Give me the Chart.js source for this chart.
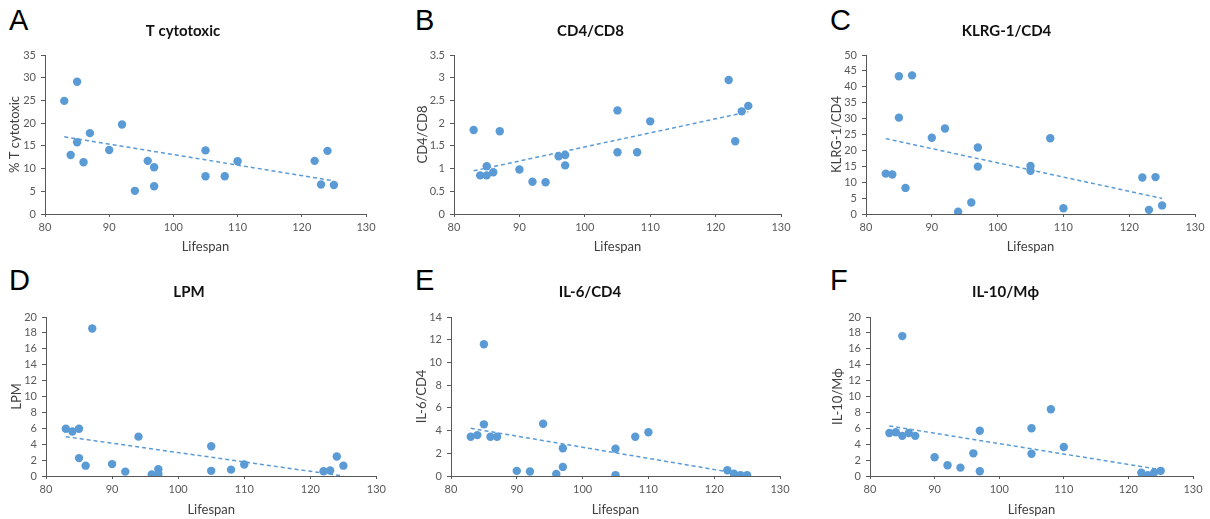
<!DOCTYPE html>
<html>
<head>
<meta charset="utf-8">
<script src="https://cdn.jsdelivr.net/npm/chart.js@4.4.1/dist/chart.umd.min.js"></script>
<style>
  html, body { margin: 0; padding: 0; background: #fff; }
  body { width: 1210px; height: 519px; position: relative; overflow: hidden; }
  .panel { position: absolute; }
  .letter { position: absolute; font-family: "Liberation Sans", Arial, sans-serif; font-size: 29px; line-height: 28px; color: #000; }
</style>
</head>
<body>
<script>
// ---- Data ----
const lifespan = [83, 84, 85, 85, 86, 87, 90, 92, 94, 96, 97, 97, 105, 105, 108, 110, 122, 123, 124, 125];

const tCytotoxic = [24.9, 13.0, 29.1, 15.8, 11.4, 17.8, 14.1, 19.7, 5.1, 11.7, 10.3, 6.1, 14.0, 8.3, 8.3, 11.6, 11.7, 6.5, 13.9, 6.4];
const cd4cd8     = [1.85, 0.85, 1.05, 0.85, 0.92, 1.82, 0.98, 0.71, 0.70, 1.27, 1.30, 1.07, 2.28, 1.36, 1.36, 2.04, 2.95, 1.60, 2.26, 2.38];
const klrg1cd4   = [12.7, 12.4, 43.3, 30.3, 8.2, 43.6, 24.0, 26.9, 0.7, 3.6, 20.9, 14.9, 15.1, 13.6, 23.8, 1.8, 11.5, 1.3, 11.6, 2.7];
const lpm        = [5.95, 5.6, 5.95, 2.25, 1.3, 18.55, 1.5, 0.55, 4.95, 0.2, 0.85, 0.25, 3.75, 0.65, 0.8, 1.45, 0.6, 0.7, 2.45, 1.3];
const il6cd4     = [3.45, 3.6, 11.6, 4.55, 3.45, 3.45, 0.45, 0.4, 4.6, 0.18, 2.45, 0.8, 2.4, 0.08, 3.45, 3.85, 0.5, 0.2, 0.08, 0.08];
const il10mphi   = [5.4, 5.5, 17.6, 5.05, 5.4, 5.05, 2.35, 1.35, 1.05, 2.85, 5.7, 0.6, 6.0, 2.8, 8.4, 3.65, 0.4, 0.1, 0.45, 0.65];

// Dashed linear trend lines (endpoints)
const trendX = [83, 125];
const trendA = [17.0, 7.3];
const trendB = [0.95, 2.25];
const trendC = [23.7, 4.9];
const trendD = [4.95, 0.0];
const trendE = [4.2, 0.08];
const trendF = [6.3, 0.8];

// Axis tick settings
const xTicks = { min: 80, max: 130, step: 10 };
const yRanges = {
  A: [0, 35, 5], B: [0, 3.5, 0.5], C: [0, 50, 5],
  D: [0, 20, 2], E: [0, 14, 2], F: [0, 20, 2]
};

const titles = { A: 'T cytotoxic', B: 'CD4/CD8', C: 'KLRG-1/CD4', D: 'LPM', E: 'IL-6/CD4', F: 'IL-10/M\u03D5' };
const yTitles = { A: '% T cytotoxic', B: 'CD4/CD8', C: 'KLRG-1/CD4', D: 'LPM', E: 'IL-6/CD4', F: 'IL-10/M\u03D5' };
const seriesByPanel = { A: tCytotoxic, B: cd4cd8, C: klrg1cd4, D: lpm, E: il6cd4, F: il10mphi };
const trendByPanel = { A: trendA, B: trendB, C: trendC, D: trendD, E: trendE, F: trendF };

// ---- Layout (pixel geometry only) ----
const layout = {
  A: { left: 0,   top: 0,   w: 380, h: 255, yW: 45, xH: 41, padR: 14, tTop: 22, tBot: 15, yTP: 7,  xTB: 0, lx: 9,   ly: 6 },
  B: { left: 400, top: 0,   w: 398, h: 255, yW: 54, xH: 41, padR: 17, tTop: 22, tBot: 15, yTP: 15, xTB: 0, lx: 415, ly: 6 },
  C: { left: 818, top: 0,   w: 392, h: 255, yW: 48, xH: 41, padR: 15, tTop: 22, tBot: 15, yTP: 11, xTB: 0, lx: 830, ly: 6 },
  D: { left: 0,   top: 262, w: 390, h: 257, yW: 46, xH: 43, padR: 12, tTop: 21, tBot: 16, yTP: 9,  xTB: 1, lx: 9,   ly: 266 },
  E: { left: 400, top: 262, w: 398, h: 257, yW: 51, xH: 43, padR: 18, tTop: 21, tBot: 16, yTP: 14, xTB: 1, lx: 415, ly: 266 },
  F: { left: 818, top: 262, w: 392, h: 257, yW: 52, xH: 43, padR: 17, tTop: 21, tBot: 16, yTP: 12, xTB: 1, lx: 830, ly: 266 }
};

const BLUE = '#5b9bd5';
const FONT = 'Lato, "Open Sans", sans-serif';

function fmt(v) { return String(Math.round(v * 100) / 100); }

Object.keys(layout).forEach(key => {
  const L = layout[key];
  const letter = document.createElement('div');
  letter.className = 'letter';
  letter.style.left = L.lx + 'px';
  letter.style.top = L.ly + 'px';
  letter.textContent = key;
  document.body.appendChild(letter);

  const wrap = document.createElement('div');
  wrap.className = 'panel';
  wrap.style.left = L.left + 'px';
  wrap.style.top = L.top + 'px';
  wrap.style.width = L.w + 'px';
  wrap.style.height = L.h + 'px';
  const canvas = document.createElement('canvas');
  canvas.width = L.w; canvas.height = L.h;
  canvas.style.width = L.w + 'px'; canvas.style.height = L.h + 'px';
  wrap.appendChild(canvas);
  document.body.appendChild(wrap);

  const ys = seriesByPanel[key];
  const tr = trendByPanel[key];
  const yr = yRanges[key];

  new Chart(canvas.getContext('2d'), {
    type: 'scatter',
    data: {
      datasets: [
        {
          label: 'trend',
          data: trendX.map((x, i) => ({ x: x, y: tr[i] })),
          showLine: true,
          borderColor: BLUE,
          borderWidth: 1.5,
          borderDash: [4, 3],
          pointRadius: 0,
          fill: false,
          order: 2
        },
        {
          label: titles[key],
          data: lifespan.map((x, i) => ({ x: x, y: ys[i] })),
          backgroundColor: BLUE,
          borderColor: BLUE,
          borderWidth: 0,
          pointRadius: 4.2,
          order: 1
        }
      ]
    },
    options: {
      responsive: false,
      animation: false,
      events: [],
      layout: { padding: { left: 0, top: 0, right: L.padR, bottom: 0 } },
      plugins: {
        legend: { display: false },
        tooltip: { enabled: false },
        title: {
          display: true,
          text: titles[key],
          color: '#111',
          font: { family: FONT, size: 15, weight: 'bold' },
          padding: { top: L.tTop, bottom: L.tBot }
        }
      },
      scales: {
        x: {
          type: 'linear',
          min: xTicks.min, max: xTicks.max,
          border: { display: true, color: '#595959', width: 1 },
          grid: { display: true, drawOnChartArea: false, drawTicks: true, tickLength: 3, color: '#595959' },
          ticks: { stepSize: xTicks.step, color: '#595959', font: { family: FONT, size: 11 }, padding: 4, maxRotation: 0, autoSkip: false },
          title: { display: true, text: 'Lifespan', color: '#404040', font: { family: FONT, size: 13 }, padding: { top: 0, bottom: L.xTB } },
          afterFit: s => { s.height = L.xH; }
        },
        y: {
          type: 'linear',
          min: yr[0], max: yr[1],
          border: { display: true, color: '#595959', width: 1 },
          grid: { display: true, drawOnChartArea: false, drawTicks: true, tickLength: 4, color: '#595959' },
          ticks: { stepSize: yr[2], color: '#595959', font: { family: FONT, size: 11 }, padding: 5, autoSkip: false, callback: v => fmt(v) },
          title: { display: true, text: yTitles[key], color: '#404040', font: { family: FONT, size: 13 }, padding: { top: L.yTP, bottom: 0 } },
          afterFit: s => { s.width = L.yW; }
        }
      }
    }
  });
});
</script>
</body>
</html>
